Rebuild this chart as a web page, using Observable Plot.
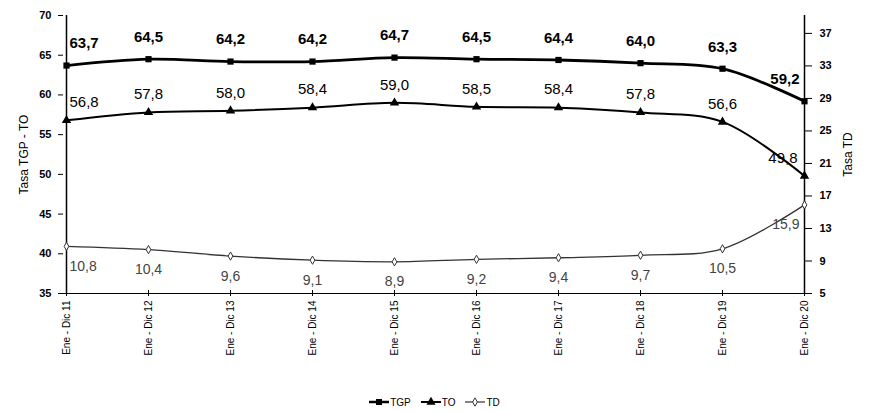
<!DOCTYPE html>
<html><head><meta charset="utf-8">
<script src="https://cdn.jsdelivr.net/npm/d3@7"></script>
<script src="https://cdn.jsdelivr.net/npm/@observablehq/plot@0.6"></script>
<style>
body{margin:0;background:#fff;font-family:Arial,"Liberation Sans",sans-serif;}
#chart svg{display:block;}
#legend{display:flex;justify-content:center;align-items:center;height:20px;font-size:10px;color:#000;}
#legend .item{display:flex;align-items:center;margin:0 5px;}
#legend svg{display:block;margin-right:1px;}
</style></head><body>
<div id="chart"></div>
<div id="legend"></div>
<script>
const categories = ["Ene - Dic 11","Ene - Dic 12","Ene - Dic 13","Ene - Dic 14","Ene - Dic 15","Ene - Dic 16","Ene - Dic 17","Ene - Dic 18","Ene - Dic 19","Ene - Dic 20"];
const tgp = [63.7,64.5,64.2,64.2,64.7,64.5,64.4,64.0,63.3,59.2];
const to  = [56.8,57.8,58.0,58.4,59.0,58.5,58.4,57.8,56.6,49.8];
const td  = [10.8,10.4,9.6,9.1,8.9,9.2,9.4,9.7,10.5,15.9];
const leftTicks  = [35,40,45,50,55,60,65,70];
const rightTicks = [5,9,13,17,21,25,29,33,37];
const seriesNames = ["TGP","TO","TD"];

const W = 869, H = 392;
const toLeft = d3.scaleLinear([5, 39.2], [35, 70]);
const fmt = v => d3.format(".1f")(v).replace(".", ",");
const rows = categories.map((c, i) => ({c, i, tgp: tgp[i], to: to[i], td: td[i], tdL: toLeft(td[i])}));
const n = rows.length;
const firstR = rows.filter(d => d.i === 0);
const midR = rows.filter(d => d.i > 0 && d.i < n - 1);
const lastR = rows.filter(d => d.i === n - 1);

function labels(yKey, valKey, dy, opts, lastDx = -5) {
  const base = {x: "c", y: yKey, text: d => fmt(d[valKey]), dy, ...opts};
  return [
    Plot.text(firstR, {...base, textAnchor: "start", dx: 3}),
    Plot.text(midR, {...base, textAnchor: "middle"}),
    Plot.text(lastR, {...base, textAnchor: "end", dx: lastDx})
  ];
}

const chart = Plot.plot({
  width: W, height: H,
  marginLeft: 63, marginRight: 62, marginTop: 15, marginBottom: H - 293,
  x: {type: "point", domain: categories, padding: 0},
  y: {domain: [35, 70]},
  style: {fontFamily: "Arial, 'Liberation Sans', sans-serif", color: "#000", background: "#fff"},
  marks: [
    Plot.ruleY([35], {stroke: "#000", strokeWidth: 1.2}),
    Plot.ruleX([categories[0], categories[n - 1]], {stroke: "#000", strokeWidth: 1.5}),
    Plot.axisY({ticks: leftTicks, tickSize: 5, tickPadding: 7, fontSize: 11, fontWeight: "bold", label: null}),
    Plot.axisY({ticks: [], tickSize: 0, label: "Tasa TGP - TO", labelAnchor: "center", labelArrow: "none", labelOffset: 44, fontSize: 12}),
    Plot.axisY({anchor: "right", ticks: rightTicks.map(toLeft), tickFormat: () => "", tickSize: 8, dx: -4, label: null}),
    Plot.axisY({anchor: "right", ticks: rightTicks.map(toLeft), tickFormat: v => String(Math.round(toLeft.invert(v))), tickSize: 0, tickPadding: 12, fontSize: 11, fontWeight: "bold", label: null}),
    Plot.axisY({anchor: "right", ticks: [], tickSize: 0, label: "Tasa TD", labelAnchor: "center", labelArrow: "none", labelOffset: 44, fontSize: 12, dy: -22}),
    Plot.axisX({tickFormat: () => "", tickSize: 6, dy: -3, label: null}),
    Plot.axisX({tickRotate: -90, tickSize: 0, tickPadding: 7, fontSize: 10, label: null}),
    Plot.line(rows, {x: "c", y: "tdL", curve: "catmull-rom", stroke: "#333", strokeWidth: 1.3}),
    Plot.dot(rows, {x: "c", y: "tdL", symbol: "diamond", r: 2.5, fill: "#fff", stroke: "#333", strokeWidth: 1}),
    Plot.line(rows, {x: "c", y: "to", curve: "catmull-rom", stroke: "#000", strokeWidth: 2}),
    Plot.dot(rows, {x: "c", y: "to", symbol: "triangle", r: 3.5, fill: "#000"}),
    Plot.line(rows, {x: "c", y: "tgp", curve: "catmull-rom", stroke: "#000", strokeWidth: 2.8}),
    Plot.dot(rows, {x: "c", y: "tgp", symbol: "square", r: 3.5, fill: "#000"}),
    ...labels("tgp", "tgp", -22, {fontSize: 15, fontWeight: "bold", fill: "#000"}),
    ...labels("to", "to", -18, {fontSize: 15, fill: "#000"}, -7),
    ...labels("tdL", "td", 20, {fontSize: 14, fill: "#444"})
  ]
});
document.getElementById("chart").appendChild(chart);

const symbols = {TGP: d3.symbolSquare, TO: d3.symbolTriangle, TD: d3.symbolDiamond};
const legend = d3.select("#legend");
seriesNames.forEach(name => {
  const it = legend.append("div").attr("class", "item");
  const s = it.append("svg").attr("width", 20).attr("height", 10);
  s.append("line").attr("x1", 0).attr("x2", 20).attr("y1", 5).attr("y2", 5)
    .attr("stroke", name === "TD" ? "#333" : "#000").attr("stroke-width", name === "TGP" ? 2.5 : name === "TO" ? 2 : 1.2);
  s.append("path").attr("transform", "translate(10,5)")
    .attr("d", d3.symbol(symbols[name], name === "TD" ? 20 : 36)())
    .attr("fill", name === "TD" ? "#fff" : "#000").attr("stroke", name === "TD" ? "#333" : "none");
  it.append("span").text(name);
});
</script>
</body></html>
